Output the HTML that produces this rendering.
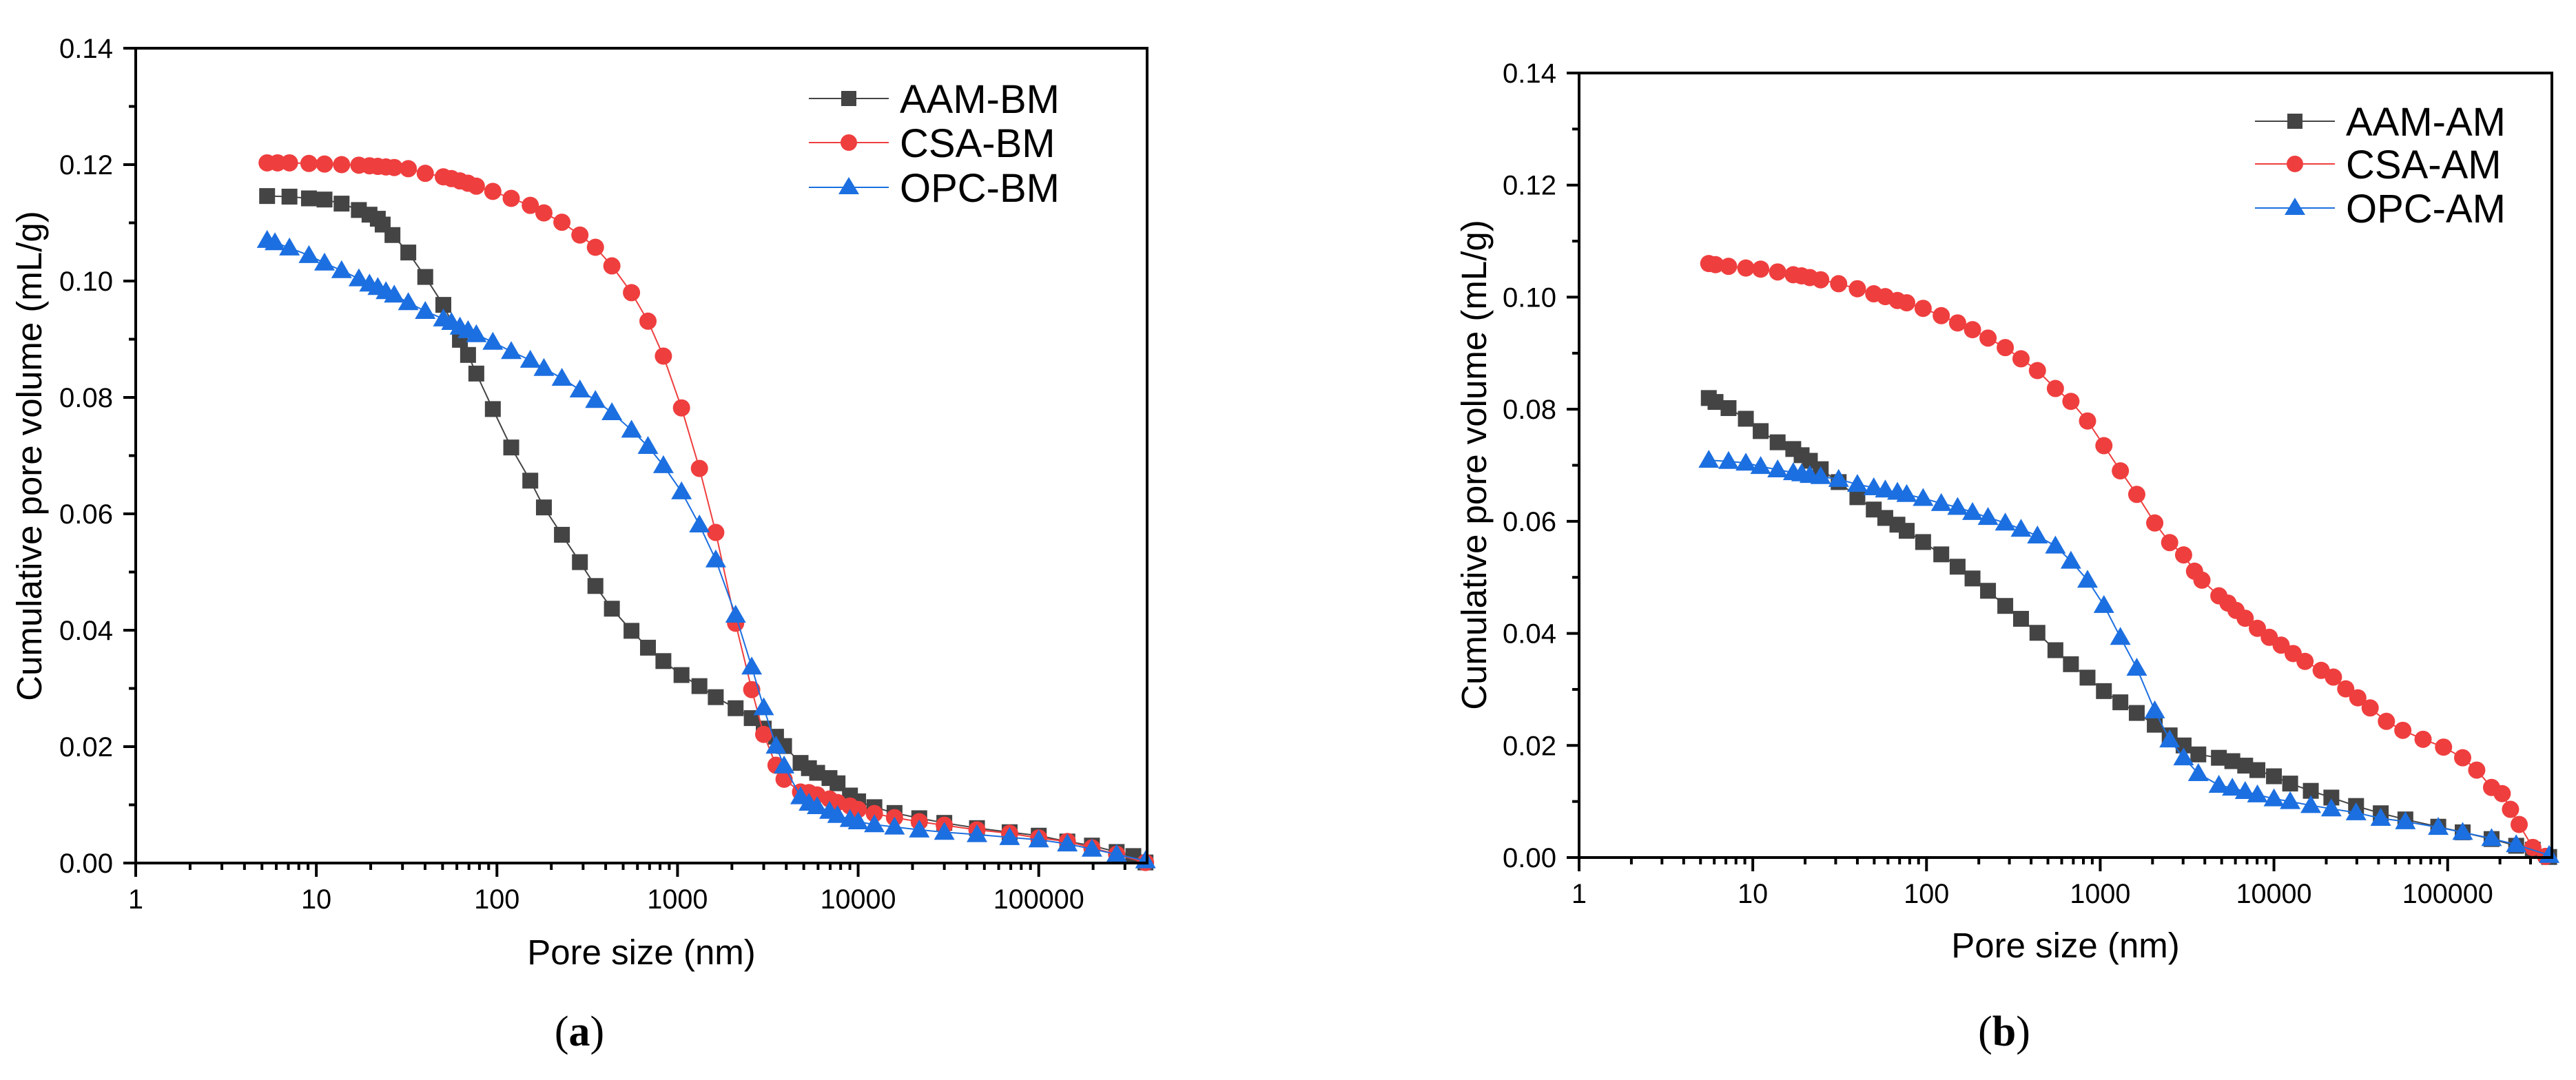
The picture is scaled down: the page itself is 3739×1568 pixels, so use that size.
<!DOCTYPE html>
<html><head><meta charset="utf-8">
<style>
html,body{margin:0;padding:0;background:#fff;}
svg{display:block;font-family:"Liberation Sans",Arial,sans-serif;}
</style></head>
<body>
<svg id="fig" width="3739" height="1568" viewBox="0 0 3739 1568" xmlns="http://www.w3.org/2000/svg">
<rect width="3739" height="1568" fill="#fff"/>
</svg>
<script>
// ---------- data (pore size nm, cumulative pore volume mL/g) ----------
const yTicks = [0.00,0.02,0.04,0.06,0.08,0.10,0.12,0.14];
const xTickLabels = ["1","10","100","1000","10000","100000"];
const seriesNamesA = ["AAM-BM","CSA-BM","OPC-BM"];
const seriesNamesB = ["AAM-AM","CSA-AM","OPC-AM"];

const aamBmX=[5.34,7.1,9.1,11.1,13.8,17.2,19.7,21.9,23.3,26.4,32.3,40.1,50.5,62.4,69.2,76.9,94.9,120,153,182,229,288,351,433,556,686,835,1052,1322,1628,2097,2575,3000,3510,3890,4800,5340,5930,6940,7690,9010,10000,12300,15900,21800,30000,45500,69000,100000,144000,197000,270000,334000,390000];
const aamBmY=[0.1146,0.1145,0.1142,0.1140,0.1133,0.1122,0.1114,0.1107,0.1097,0.1079,0.1049,0.1007,0.0959,0.0899,0.0873,0.0841,0.0780,0.0714,0.0657,0.0611,0.0564,0.0517,0.0476,0.0437,0.0399,0.0370,0.0347,0.0323,0.0304,0.0285,0.0266,0.0249,0.0231,0.0217,0.0201,0.0172,0.0163,0.0155,0.0146,0.0137,0.0116,0.0106,0.0096,0.0086,0.0077,0.0069,0.0060,0.0053,0.0047,0.0037,0.0030,0.0019,0.0012,0.0001];

const csaBmX=[5.34,6.1,7.1,9.1,11.1,13.8,17.2,19.7,21.9,24.3,27.0,32.3,40.1,50.5,56,62.4,69.2,76.9,94.9,120,153,182,229,288,351,433,556,686,835,1052,1322,1628,2097,2575,3000,3510,3890,4800,5340,5930,6940,7690,9010,10000,12300,15900,21800,30000,45500,69000,100000,144000,197000,270000,390000];
const csaBmY=[0.1203,0.1203,0.1203,0.1202,0.1201,0.1200,0.1199,0.1198,0.1197,0.1196,0.1195,0.1193,0.1185,0.1179,0.1176,0.1172,0.1168,0.1163,0.1154,0.1142,0.1130,0.1117,0.1101,0.1079,0.1058,0.1026,0.0980,0.0931,0.0871,0.0782,0.0678,0.0568,0.0412,0.0298,0.0221,0.0168,0.0144,0.0122,0.0121,0.0117,0.0110,0.0104,0.0098,0.0092,0.0085,0.0078,0.0071,0.0065,0.0057,0.0051,0.0043,0.0037,0.0026,0.0015,0.0001];

const opcBmX=[5.34,5.9,7.1,9.1,11.1,13.8,17.2,19.7,21.9,24.3,27,32.3,40.1,50.5,56,62.4,69.2,76.9,94.9,120,153,182,229,288,351,433,556,686,835,1052,1322,1628,2097,2575,3000,3510,3890,4800,5340,5930,6940,7690,9010,10000,12300,15900,21800,30000,45500,69000,100000,144000,197000,270000,390000];
const opcBmY=[0.1070,0.1066,0.1057,0.1044,0.1031,0.1018,0.1004,0.0995,0.0989,0.0982,0.0976,0.0963,0.0948,0.0935,0.0929,0.0921,0.0915,0.0908,0.0895,0.0879,0.0864,0.0850,0.0833,0.0813,0.0795,0.0774,0.0744,0.0716,0.0683,0.0638,0.0581,0.0521,0.0426,0.0337,0.0267,0.0201,0.0167,0.0114,0.0103,0.0097,0.0089,0.0082,0.0075,0.0071,0.0066,0.0062,0.0057,0.0053,0.0049,0.0044,0.0040,0.0033,0.0024,0.0015,0.0004];

const aamAmX=[5.58,6.1,7.25,9.12,11.1,13.9,17.1,19.1,21.3,24.6,31.2,40,49.7,57.9,68,76.9,95.6,121.6,151,184,226,284,350,435,552,678,845,1050,1306,1623,2060,2510,3020,3670,4820,5760,6830,8030,10000,12400,16300,21400,29700,41200,57100,88300,122000,179000,248000,309000,384000];
const aamAmY=[0.0820,0.0813,0.0802,0.0783,0.0761,0.0741,0.0729,0.0718,0.0708,0.0693,0.0670,0.0643,0.0621,0.0606,0.0594,0.0583,0.0563,0.0541,0.0519,0.0498,0.0476,0.0449,0.0426,0.0401,0.0370,0.0345,0.0321,0.0297,0.0277,0.0258,0.0237,0.0218,0.0200,0.0184,0.0178,0.0172,0.0164,0.0156,0.0145,0.0132,0.0119,0.0107,0.0092,0.0079,0.0068,0.0055,0.0045,0.0033,0.0021,0.0014,0.0001];

const csaAmX=[5.58,6.1,7.25,9.12,11.1,13.9,17.1,19.1,21.3,24.6,31.2,40,49.7,57.9,68,76.9,95.6,121.6,151,184,226,284,350,435,552,678,845,1050,1306,1623,2060,2510,3020,3490,3850,4820,5440,6050,6830,8030,9400,11000,12900,15100,18700,22000,25900,30400,35800,44400,55200,72200,94700,122000,147000,179000,206000,230000,258000,309000,366000];
const csaAmY=[0.1060,0.1058,0.1055,0.1052,0.1050,0.1045,0.1040,0.1038,0.1035,0.1031,0.1024,0.1015,0.1006,0.1001,0.0994,0.0990,0.0980,0.0967,0.0954,0.0942,0.0927,0.0910,0.0890,0.0869,0.0837,0.0814,0.0779,0.0735,0.0690,0.0648,0.0597,0.0562,0.0540,0.0511,0.0495,0.0467,0.0454,0.0441,0.0427,0.0409,0.0393,0.0379,0.0364,0.0350,0.0334,0.0322,0.0301,0.0285,0.0267,0.0243,0.0227,0.0211,0.0197,0.0178,0.0156,0.0125,0.0114,0.0086,0.0059,0.0018,0.0002];

const opcAmX=[5.58,7.25,9.12,11.1,13.9,17.1,19.1,21.3,24.6,31.2,40,49.7,57.9,68,76.9,95.6,121.6,151,184,226,284,350,435,552,678,845,1050,1306,1623,2060,2510,3020,3670,4820,5760,6830,8030,10000,12400,16300,21400,29700,41200,57100,88300,122000,179000,248000,384000];
const opcAmY=[0.0709,0.0707,0.0704,0.0698,0.0692,0.0687,0.0685,0.0682,0.0680,0.0675,0.0666,0.0660,0.0656,0.0652,0.0648,0.0641,0.0632,0.0625,0.0616,0.0607,0.0597,0.0586,0.0574,0.0556,0.0529,0.0495,0.0450,0.0393,0.0338,0.0262,0.0210,0.0178,0.0150,0.0129,0.0124,0.0118,0.0112,0.0105,0.0100,0.0093,0.0087,0.0080,0.0070,0.0064,0.0054,0.0045,0.0034,0.0023,0.0004];

// ---------- drawing ----------
const NS="http://www.w3.org/2000/svg";
const svg=document.getElementById('fig');
const COLORS=["#444444","#ef3e3e","#1c6fe0"];
const MARKERS=["square","circle","triangle"];
function mk(tag,attrs,parent){const e=document.createElementNS(NS,tag);for(const k in attrs)e.setAttribute(k,attrs[k]);(parent||svg).appendChild(e);return e;}

function drawChart(cfg){
  const g=mk('g',{});
  
  
  const xs=v=>cfg.xL+(Math.log10(v)/5.6)*(cfg.xR-cfg.xL);
  const ys=v=>cfg.yB-(v/0.14)*(cfg.yB-cfg.yT);
  cfg.series.forEach((s,i)=>{
    const sg=mk('g',{},g);
    
    
    const pts=s.x.map((xv,j)=>xs(xv).toFixed(1)+','+ys(s.y[j]).toFixed(1)).join(' ');
    const pl=mk('polyline',{points:pts,fill:'none',stroke:COLORS[i],'stroke-width':2},sg);
    
    
    s.x.forEach((xv,j)=>{
      const cx=xs(xv),cy=ys(s.y[j]);let m;
      if(MARKERS[i]==='square')m=mk('rect',{x:cx-11.5,y:cy-11.5,width:23,height:23,fill:COLORS[i]},sg);
      else if(MARKERS[i]==='circle')m=mk('circle',{cx:cx,cy:cy,r:12.5,fill:COLORS[i]},sg);
      else m=mk('polygon',{points:`${cx},${cy-15} ${cx-15},${cy+11} ${cx+15},${cy+11}`,fill:COLORS[i]},sg);
      
      
    });
  });
  const fr=mk('rect',{x:cfg.xL,y:cfg.yT,width:cfg.xR-cfg.xL,height:cfg.yB-cfg.yT,fill:'none',stroke:'#000','stroke-width':4},g);
  
  
  yTicks.forEach((t,k)=>{
    const y=ys(t);
    mk('line',{x1:cfg.xL-18,x2:cfg.xL,y1:y,y2:y,stroke:'#000','stroke-width':4},g);
    if(k<yTicks.length-1){const ym=ys(t+0.01);mk('line',{x1:cfg.xL-10,x2:cfg.xL,y1:ym,y2:ym,stroke:'#000','stroke-width':4},g);}
    const tx=mk('text',{x:cfg.xL-33,y:y+14,'text-anchor':'end','font-size':40,textLength:78,lengthAdjust:'spacingAndGlyphs'},g);
    tx.textContent=t.toFixed(2);
    
    
  });
  xTickLabels.forEach((lab,d)=>{
    const x=xs(Math.pow(10,d));
    mk('line',{x1:x,x2:x,y1:cfg.yB,y2:cfg.yB+20,stroke:'#000','stroke-width':4},g);
    for(let m=2;m<=9;m++){const v=m*Math.pow(10,d);if(Math.log10(v)<=5.6){const xm=xs(v);mk('line',{x1:xm,x2:xm,y1:cfg.yB,y2:cfg.yB+10,stroke:'#000','stroke-width':4},g);}}
    const tx=mk('text',{x:x,y:cfg.yB+66,'text-anchor':'middle','font-size':40,textLength:22*lab.length,lengthAdjust:'spacingAndGlyphs'},g);
    tx.textContent=lab;
    
    
  });
  const xt=mk('text',{x:cfg.xtX,y:cfg.xtY,'text-anchor':'middle','font-size':51},g);
  xt.textContent='Pore size (nm)';
  
  
  const yt=mk('text',{x:0,y:0,'text-anchor':'middle','font-size':51,transform:`translate(${cfg.ytX},${cfg.ytY}) rotate(-90)`},g);
  yt.textContent='Cumulative pore volume (mL/g)';
  
  
  const lg=mk('g',{},g);
  
  
  cfg.series.forEach((s,i)=>{
    const y=cfg.legY[i],x0=cfg.legX,L=cfg.legLen;
    const e=mk('g',{},lg);
    
    
    mk('line',{x1:x0,x2:x0+L,y1:y,y2:y,stroke:COLORS[i],'stroke-width':2},e);
    const cx=x0+L/2;
    if(i===0)mk('rect',{x:cx-11,y:y-11,width:22,height:22,fill:COLORS[i]},e);
    else if(i===1)mk('circle',{cx:cx,cy:y,r:12,fill:COLORS[i]},e);
    else mk('polygon',{points:`${cx},${y-15} ${cx-15},${y+10} ${cx+15},${y+10}`,fill:COLORS[i]},e);
    const t=mk('text',{x:x0+L+16,y:y+21,'font-size':58},e);
    t.textContent=s.name;
  });
  const pl=mk('text',{x:cfg.plX,y:1518,'text-anchor':'middle','font-size':62,'font-family':'"Liberation Serif",serif'},g);
  pl.innerHTML=cfg.panel;
  
  
}

drawChart({name:'chart-a',xL:197,xR:1665,yT:70,yB:1253,xtX:931,xtY:1400,ytX:60,ytY:662,legX:1174,legLen:116,legY:[143,207,272],plX:841,panel:'(<tspan font-weight="bold">a</tspan>)',
  series:[{name:seriesNamesA[0],x:aamBmX,y:aamBmY},{name:seriesNamesA[1],x:csaBmX,y:csaBmY},{name:seriesNamesA[2],x:opcBmX,y:opcBmY}]});
drawChart({name:'chart-b',xL:2292,xR:3704,yT:106,yB:1245,xtX:2998,xtY:1390,ytX:2157,ytY:675,legX:3273,legLen:116,legY:[176,238,302],plX:2909,panel:'(<tspan font-weight="bold">b</tspan>)',
  series:[{name:seriesNamesB[0],x:aamAmX,y:aamAmY},{name:seriesNamesB[1],x:csaAmX,y:csaAmY},{name:seriesNamesB[2],x:opcAmX,y:opcAmY}]});
</script>
</body></html>
